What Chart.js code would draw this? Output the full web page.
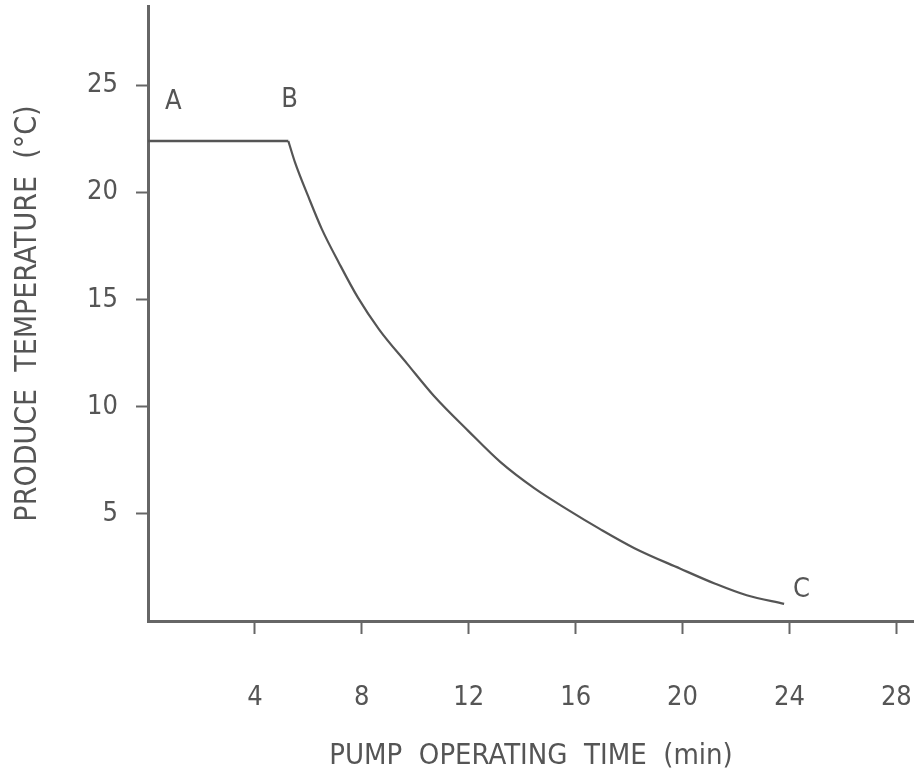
<!DOCTYPE html>
<html>
<head>
<meta charset="utf-8">
<script src="https://cdn.jsdelivr.net/npm/chart.js@4/dist/chart.umd.min.js"></script>
<style>
html,body{margin:0;padding:0;background:#fff;}
#wrap{width:914px;height:778px;position:relative;}
</style>
</head>
<body>
<div id="wrap"><canvas id="c" width="914" height="778"></canvas></div>
<script>
const flatTimes = [0, 5.25];
const flatTemps = [22.4, 22.4];
const curveTimes = [5.25, 5.5, 6.0, 6.5, 7.15, 7.85, 8.65, 9.7, 10.7, 12.0, 13.2, 14.45, 15.7, 16.9, 18.2, 19.9, 21.2, 22.4, 23.8];
const curveTemps = [22.4, 21.4, 19.8, 18.3, 16.7, 15.1, 13.6, 12.0, 10.5, 8.85, 7.4, 6.2, 5.2, 4.3, 3.4, 2.45, 1.75, 1.2, 0.8];
const xTickValues = [4, 8, 12, 16, 20, 24, 28];
const yTickValues = [5, 10, 15, 20, 25];
const pointLabels = ['A', 'B', 'C'];
const pointLabelX = [0.95, 5.3, 24.45];
const pointLabelY = [24.2, 24.3, 1.45];

const FONT = "'Liberation Sans Narrow', 'DejaVu Sans Condensed', 'Liberation Sans', sans-serif";
const INK = '#555555';

const toXY = (xs, ys) => xs.map((x, i) => ({x: x, y: ys[i]}));

const letterPlugin = {
  id: 'letters',
  afterDatasetsDraw(chart) {
    const ctx = chart.ctx;
    const xs = chart.scales.x, ys = chart.scales.y;
    ctx.save();
    ctx.fillStyle = INK;
    ctx.font = "27px " + FONT;
    ctx.textAlign = 'center';
    ctx.textBaseline = 'middle';
    pointLabels.forEach((t, i) => {
      ctx.fillText(t, xs.getPixelForValue(pointLabelX[i]), ys.getPixelForValue(pointLabelY[i]));
    });
    ctx.restore();
  }
};

new Chart(document.getElementById('c'), {
  type: 'scatter',
  data: {
    datasets: [
      {data: toXY(flatTimes, flatTemps), showLine: true, borderColor: INK, borderWidth: 2.5, pointRadius: 0, tension: 0},
      {data: toXY(curveTimes, curveTemps), showLine: true, borderColor: INK, borderWidth: 2.2, pointRadius: 0, cubicInterpolationMode: 'monotone'}
    ]
  },
  options: {
    responsive: false,
    animation: false,
    events: [],
    layout: {padding: {top: 6, right: 0, left: 0, bottom: 0}},
    plugins: {legend: {display: false}, tooltip: {enabled: false}},
    scales: {
      x: {
        type: 'linear', min: 0, max: 28.66,
        afterBuildTicks: (s) => { s.ticks = xTickValues.map(v => ({value: v})); },
        afterFit: (s) => { s.height = 157; s.paddingLeft = 0; s.paddingRight = 0; },
        grid: {drawOnChartArea: false, drawTicks: true, tickLength: 13, tickColor: '#666', tickWidth: 2},
        border: {display: true, color: '#666', width: 3},
        ticks: {color: INK, font: {family: FONT, size: 27}, padding: 48, maxRotation: 0, autoSkip: false},
        title: {display: true, text: 'PUMP  OPERATING  TIME  (min)', color: INK, font: {family: FONT, size: 29}, padding: {top: 0, bottom: 4}}
      },
      y: {
        type: 'linear', min: 0, max: 28.7,
        afterBuildTicks: (s) => { s.ticks = yTickValues.map(v => ({value: v})); },
        afterFit: (s) => { s.width = 148; s.paddingTop = 0; s.paddingBottom = 0; },
        grid: {drawOnChartArea: false, drawTicks: true, tickLength: 12, tickColor: '#666', tickWidth: 2},
        border: {display: true, color: '#666', width: 3},
        ticks: {color: INK, font: {family: FONT, size: 27}, padding: 18, autoSkip: false},
        title: {display: true, text: 'PRODUCE  TEMPERATURE  (°C)', color: INK, font: {family: FONT, size: 30}, padding: {top: 10, bottom: 0}}
      }
    }
  },
  plugins: [letterPlugin]
});
</script>
</body>
</html>
